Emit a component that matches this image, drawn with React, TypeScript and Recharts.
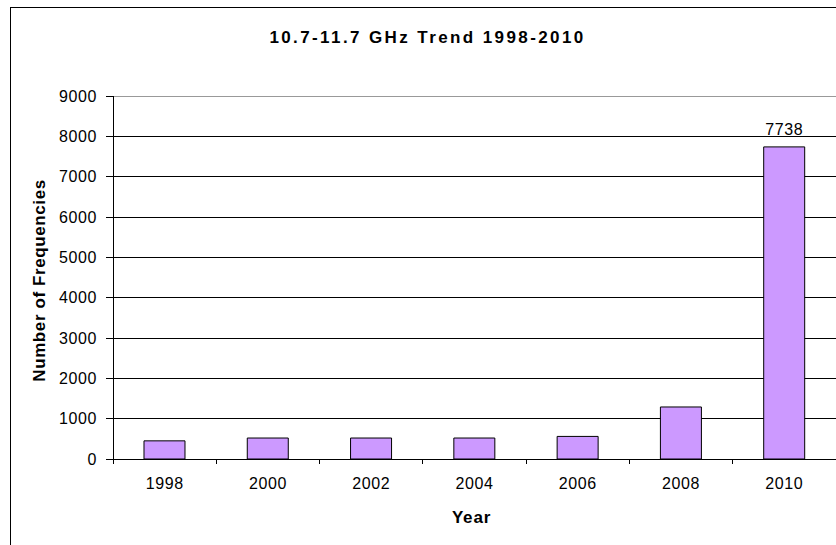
import React from 'react';
import { BarChart, Bar, XAxis, YAxis, CartesianGrid, ReferenceLine, LabelList, Label } from 'recharts';

const years = ['1998', '2000', '2002', '2004', '2006', '2008', '2010'];
const counts = [450, 520, 520, 520, 560, 1290, 7738];
const valueLabels = [undefined, undefined, undefined, undefined, undefined, undefined, '7738'];
const yTicks = [0, 1000, 2000, 3000, 4000, 5000, 6000, 7000, 8000, 9000];

const data = years.map((y, i) => ({ year: y, count: counts[i], label: valueLabels[i] }));

const FONT = 'Arial, "Liberation Sans", sans-serif';

function YearTick(props: any) {
  const { x, y, payload } = props;
  const half = payload && typeof payload.offset === 'number' ? payload.offset : 0;
  return (
    <g>
      {half > 0 && (
        <line x1={x - half} x2={x - half} y1={y - 19} y2={y - 14} stroke="#000" strokeWidth={1} shapeRendering="crispEdges" />
      )}
      <text x={x} y={y} dy="0.71em" textAnchor="middle" fill="#000" fontSize={16} fontFamily={FONT} letterSpacing={0.6}>
        {payload.value}
      </text>
    </g>
  );
}

export default function App() {
  return (
    <div style={{ position: 'absolute', left: 0, top: 0, width: 836, height: 545, overflow: 'hidden', background: '#fff', fontFamily: FONT }}>
      <svg width={836} height={545} style={{ position: 'absolute', left: 0, top: 0 }}>
        <rect x={10.5} y={7.5} width={900} height={600} fill="#fff" stroke="#000" strokeWidth={1} />
        <text x={427.5} y={43} textAnchor="middle" fontFamily={FONT} fontWeight="bold" fontSize={17} letterSpacing={2.4} fill="#000">
          10.7-11.7 GHz Trend 1998-2010
        </text>
      </svg>
      <div style={{ position: 'absolute', left: 0, top: 0 }}>
        <BarChart width={840} height={545} data={data} margin={{ top: 96, right: 4, bottom: 0, left: 0 }} barCategoryGap="30%">
          <CartesianGrid vertical={false} stroke="#000" strokeWidth={1} shapeRendering="crispEdges" />
          <ReferenceLine y={9000} stroke="#999" strokeWidth={1} shapeRendering="crispEdges" />
          <XAxis
            dataKey="year"
            height={86}
            axisLine={{ stroke: '#000', shapeRendering: 'crispEdges' }}
            tickLine={false}
            tickSize={0}
            tickMargin={19}
            interval={0}
            tick={<YearTick />}
          >
            <Label value="Year" position="center" dx={-3} dy={15} fill="#000" fontWeight="bold" fontSize={17} fontFamily={FONT} letterSpacing={0.8} />
          </XAxis>
          <YAxis
            width={113}
            domain={[0, 9000]}
            ticks={yTicks}
            interval={0}
            axisLine={{ stroke: '#000', shapeRendering: 'crispEdges' }}
            tickLine={{ stroke: '#000', shapeRendering: 'crispEdges' }}
            tickSize={7}
            tickMargin={9}
            tick={{ fill: '#000', fontSize: 16, fontFamily: FONT, letterSpacing: 0.6 }}
          >
            <Label value="Number of Frequencies" angle={-90} position="center" dx={-18} dy={3} fill="#000" fontWeight="bold" fontSize={17} fontFamily={FONT} letterSpacing={0.6} />
          </YAxis>
          <Bar dataKey="count" fill="#CC99FF" stroke="#000" strokeWidth={1} isAnimationActive={false}>
            <LabelList dataKey="label" position="top" offset={12} fill="#000" fontSize={16} fontFamily={FONT} letterSpacing={0.6} />
          </Bar>
        </BarChart>
      </div>
    </div>
  );
}
